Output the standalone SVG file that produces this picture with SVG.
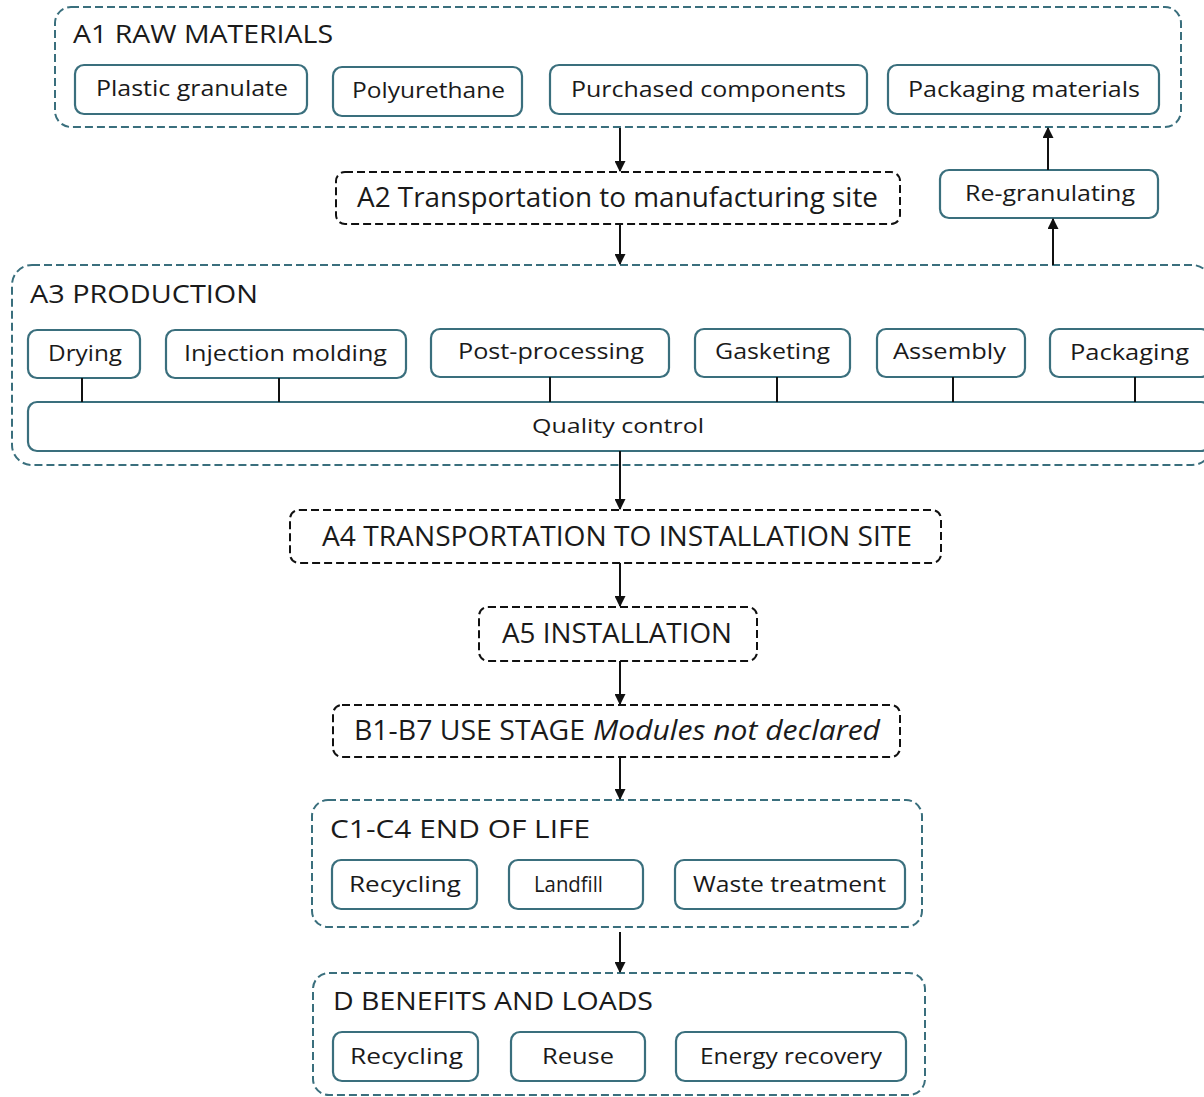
<svg xmlns="http://www.w3.org/2000/svg" width="1204" height="1097" viewBox="0 0 1204 1097">
<defs>
<marker id="ah" viewBox="0 0 10 10" refX="9" refY="5" markerWidth="5.5" markerHeight="5.5" orient="auto" markerUnits="strokeWidth">
<path d="M0,0 L10,5 L0,10 z" fill="#111"/>
</marker>
<style>
.grp{fill:#fff;stroke:#3a6f7d;stroke-width:2;stroke-dasharray:8 4}
.stage{fill:#fff;stroke:#111;stroke-width:2;stroke-dasharray:8 4}
.box{fill:#fff;stroke:#3a6f7d;stroke-width:2.2}
.t{font-family:"Open Sans","Liberation Sans",sans-serif;fill:#1a1a1a;font-variant-ligatures:none}
.title{font-size:25px}
.big{font-size:27px}
.lbl{font-size:21px}
.lbl2{font-size:20px}
.conn{stroke:#111;stroke-width:2;fill:none}
</style>
</defs>
<rect width="1204" height="1097" fill="#fff"/>

<g id="A1">
<rect class="grp" x="55" y="7" width="1126" height="120" rx="16"/>
<text class="t title" x="73" y="43" textLength="260" lengthAdjust="spacingAndGlyphs">A1 RAW MATERIALS</text>
</g>
<g id="A1-plastic"><rect class="box" x="75" y="65" width="232" height="49" rx="9"/><text class="t lbl" x="96" y="96" textLength="192" lengthAdjust="spacingAndGlyphs">Plastic granulate</text></g>
<g id="A1-pu"><rect class="box" x="333" y="67" width="189" height="49" rx="9"/><text class="t lbl" x="352" y="98" textLength="153" lengthAdjust="spacingAndGlyphs">Polyurethane</text></g>
<g id="A1-purchased"><rect class="box" x="550" y="65" width="317" height="49" rx="9"/><text class="t lbl" x="571" y="97" textLength="275" lengthAdjust="spacingAndGlyphs">Purchased components</text></g>
<g id="A1-packmat"><rect class="box" x="888" y="65" width="271" height="49" rx="9"/><text class="t lbl" x="908" y="97" textLength="232" lengthAdjust="spacingAndGlyphs">Packaging materials</text></g>

<g id="A2">
<rect class="stage" x="336" y="172" width="564" height="52" rx="9"/>
<text class="t big" x="357" y="207" textLength="521" lengthAdjust="spacingAndGlyphs">A2 Transportation to manufacturing site</text>
</g>

<g id="regranulating"><rect class="box" x="940" y="170" width="218" height="48" rx="9"/><text class="t lbl" x="965" y="201" textLength="170" lengthAdjust="spacingAndGlyphs">Re-granulating</text></g>

<g id="A3">
<rect class="grp" x="12" y="265" width="1200" height="200" rx="20"/>
<text class="t title" x="30" y="303" textLength="228" lengthAdjust="spacingAndGlyphs">A3 PRODUCTION</text>
</g>
<g id="A3-drying"><rect class="box" x="28" y="330" width="112" height="48" rx="9"/><text class="t lbl" x="48" y="361" textLength="74" lengthAdjust="spacingAndGlyphs">Drying</text></g>
<g id="A3-injection"><rect class="box" x="166" y="330" width="240" height="48" rx="9"/><text class="t lbl" x="184" y="361" textLength="203" lengthAdjust="spacingAndGlyphs">Injection molding</text></g>
<g id="A3-post"><rect class="box" x="431" y="329" width="238" height="48" rx="9"/><text class="t lbl" x="458" y="359" textLength="186" lengthAdjust="spacingAndGlyphs">Post-processing</text></g>
<g id="A3-gasketing"><rect class="box" x="695" y="329" width="155" height="48" rx="9"/><text class="t lbl" x="715" y="359" textLength="115" lengthAdjust="spacingAndGlyphs">Gasketing</text></g>
<g id="A3-assembly"><rect class="box" x="877" y="329" width="148" height="48" rx="9"/><text class="t lbl" x="893" y="359" textLength="113" lengthAdjust="spacingAndGlyphs">Assembly</text></g>
<g id="A3-packaging"><rect class="box" x="1050" y="329" width="160" height="48" rx="9"/><text class="t lbl" x="1070" y="360" textLength="119" lengthAdjust="spacingAndGlyphs">Packaging</text></g>
<g id="A3-qc"><rect class="box" x="28" y="402" width="1182" height="49" rx="9"/><text class="t lbl2" x="532" y="433" textLength="172" lengthAdjust="spacingAndGlyphs">Quality control</text></g>

<g id="A4">
<rect class="stage" x="290" y="510" width="651" height="53" rx="9"/>
<text class="t big" x="322" y="546" textLength="590" lengthAdjust="spacingAndGlyphs">A4 TRANSPORTATION TO INSTALLATION SITE</text>
</g>

<g id="A5">
<rect class="stage" x="479" y="607" width="278" height="54" rx="9"/>
<text class="t big" x="502" y="643" textLength="230" lengthAdjust="spacingAndGlyphs">A5 INSTALLATION</text>
</g>

<g id="B">
<rect class="stage" x="333" y="705" width="567" height="52" rx="9"/>
<text class="t big" x="354" y="740"><tspan textLength="231" lengthAdjust="spacingAndGlyphs">B1-B7 USE STAGE</tspan><tspan x="593" font-style="italic" textLength="287" lengthAdjust="spacingAndGlyphs">Modules not declared</tspan></text>
</g>

<g id="C">
<rect class="grp" x="312" y="800" width="610" height="127" rx="16"/>
<text class="t title" x="330" y="838" textLength="260" lengthAdjust="spacingAndGlyphs">C1-C4 END OF LIFE</text>
</g>
<g id="C-recycling"><rect class="box" x="332" y="860" width="145" height="49" rx="9"/><text class="t lbl" x="349" y="892" textLength="112" lengthAdjust="spacingAndGlyphs">Recycling</text></g>
<g id="C-landfill"><rect class="box" x="509" y="860" width="134" height="49" rx="9"/><text class="t lbl" x="534" y="892" textLength="69" lengthAdjust="spacingAndGlyphs">Landfill</text></g>
<g id="C-waste"><rect class="box" x="675" y="860" width="230" height="49" rx="9"/><text class="t lbl" x="693" y="892" textLength="193" lengthAdjust="spacingAndGlyphs">Waste treatment</text></g>

<g id="D">
<rect class="grp" x="313" y="973" width="612" height="122" rx="16"/>
<text class="t title" x="333" y="1010" textLength="320" lengthAdjust="spacingAndGlyphs">D BENEFITS AND LOADS</text>
</g>
<g id="D-recycling"><rect class="box" x="333" y="1032" width="145" height="49" rx="9"/><text class="t lbl" x="350" y="1064" textLength="113" lengthAdjust="spacingAndGlyphs">Recycling</text></g>
<g id="D-reuse"><rect class="box" x="511" y="1032" width="134" height="49" rx="9"/><text class="t lbl" x="542" y="1064" textLength="72" lengthAdjust="spacingAndGlyphs">Reuse</text></g>
<g id="D-energy"><rect class="box" x="676" y="1032" width="230" height="49" rx="9"/><text class="t lbl" x="700" y="1064" textLength="182" lengthAdjust="spacingAndGlyphs">Energy recovery</text></g>

<g id="connectors">
<line class="conn" x1="620" y1="128" x2="620" y2="171" marker-end="url(#ah)"/>
<line class="conn" x1="620" y1="225" x2="620" y2="264" marker-end="url(#ah)"/>
<line class="conn" x1="1053" y1="265" x2="1053" y2="219" marker-end="url(#ah)"/>
<line class="conn" x1="1048" y1="170" x2="1048" y2="128" marker-end="url(#ah)"/>
<line class="conn" x1="82" y1="378" x2="82" y2="402"/>
<line class="conn" x1="279" y1="378" x2="279" y2="402"/>
<line class="conn" x1="550" y1="377" x2="550" y2="402"/>
<line class="conn" x1="777" y1="377" x2="777" y2="402"/>
<line class="conn" x1="953" y1="377" x2="953" y2="402"/>
<line class="conn" x1="1135" y1="377" x2="1135" y2="402"/>
<line class="conn" x1="620" y1="451" x2="620" y2="509" marker-end="url(#ah)"/>
<line class="conn" x1="620" y1="563" x2="620" y2="606" marker-end="url(#ah)"/>
<line class="conn" x1="620" y1="661" x2="620" y2="704" marker-end="url(#ah)"/>
<line class="conn" x1="620" y1="757" x2="620" y2="799" marker-end="url(#ah)"/>
<line class="conn" x1="620" y1="932" x2="620" y2="972" marker-end="url(#ah)"/>
</g>
</svg>
